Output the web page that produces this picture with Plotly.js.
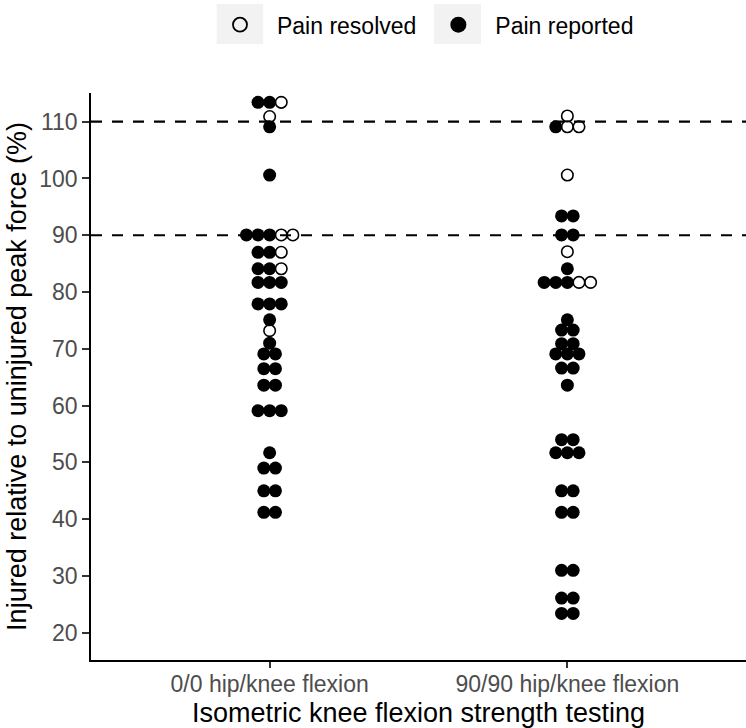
<!DOCTYPE html>
<html><head><meta charset="utf-8">
<script src="https://cdn.plot.ly/plotly-3.0.1.min.js"></script>
<style>html,body{margin:0;padding:0;background:#fff}#chart{width:746px;height:728px}</style>
</head><body><div id="chart"></div>
<script>
// ---- data (dot-plot bin centres, % of uninjured peak force), one entry per athlete ----
const categories = ["0/0 hip/knee flexion", "90/90 hip/knee flexion"];
const seriesNames = ["Pain resolved", "Pain reported"];
const yTicks = [20, 30, 40, 50, 60, 70, 80, 90, 100, 110];
const thresholds = [90, 110];

const resolved00 = [113.4, 110.9, 90.05, 90.05, 87.0, 84.1, 73.2];
const reported00 = [113.4, 113.4, 109.1, 100.6, 90.05, 90.05, 90.05, 87.0, 87.0, 84.1, 84.1,
  81.7, 81.7, 81.7, 77.9, 77.9, 77.9, 75.1, 71.0, 69.1, 69.1, 66.5, 66.5, 63.6, 63.6,
  59.1, 59.1, 59.1, 51.7, 49.0, 49.0, 45.0, 45.0, 41.2, 41.2];
const resolved9090 = [111.0, 109.1, 109.1, 100.6, 87.1, 81.7, 81.7];
const reported9090 = [109.1, 93.4, 93.4, 90.05, 90.05, 84.1, 81.7, 81.7, 81.7, 75.1, 73.3, 73.3,
  70.9, 70.9, 69.1, 69.1, 69.1, 66.6, 66.6, 63.6, 54.0, 54.0, 51.7, 51.7, 51.7, 45.0, 45.0,
  41.2, 41.2, 31.0, 31.0, 26.1, 26.1, 23.4, 23.4];

// ---- centred horizontal stacking of dots sharing a bin (filled first, then open) ----
const STEP = 0.039;
function stackColumn(catIdx, filledVals, openVals) {
  const keys = Array.from(new Set(filledVals.concat(openVals)));
  const out = {filled: {x: [], y: []}, open: {x: [], y: []}};
  keys.forEach(k => {
    const nf = filledVals.filter(v => v === k).length;
    const no = openVals.filter(v => v === k).length;
    const n = nf + no;
    for (let i = 0; i < n; i++) {
      const xv = catIdx + (i - (n - 1) / 2) * STEP;
      const tgt = i < nf ? out.filled : out.open;
      tgt.x.push(xv); tgt.y.push(k);
    }
  });
  return out;
}
const c0 = stackColumn(0, reported00, resolved00);
const c1 = stackColumn(1, reported9090, resolved9090);

const FONT = '"Liberation Sans", Arial, Helvetica, sans-serif';
const openMarker = {symbol: 'circle-open', size: 11.5, color: '#000', line: {width: 1.6, color: '#000'}};
const filledMarker = {symbol: 'circle', size: 13, color: '#000', line: {width: 0}};

const traces = [
  {
    type: 'scatter', mode: 'markers', name: seriesNames[0], legendgroup: 'r', showlegend: false,
    x: c0.open.x.concat(c1.open.x), y: c0.open.y.concat(c1.open.y),
    marker: openMarker, hoverinfo: 'y'
  },
  {
    type: 'scatter', mode: 'markers', name: seriesNames[1], legendgroup: 'p', showlegend: false,
    x: c0.filled.x.concat(c1.filled.x), y: c0.filled.y.concat(c1.filled.y),
    marker: filledMarker, hoverinfo: 'y'
  },
  // legend keys (larger symbols, as in the reference legend)
  {type: 'scatter', mode: 'markers', name: seriesNames[0], legendgroup: 'r', x: [null], y: [null],
   marker: {symbol: 'circle-open', size: 14, color: '#000', line: {width: 1.8, color: '#000'}}},
  {type: 'scatter', mode: 'markers', name: seriesNames[1], legendgroup: 'p', x: [null], y: [null],
   marker: {symbol: 'circle', size: 16, color: '#000', line: {width: 0}}}
];

const shapes = thresholds.map(t => ({
  type: 'line', xref: 'paper', x0: 0, x1: 1, yref: 'y', y0: t, y1: t,
  line: {color: '#000', width: 2.2, dash: '11px,10px'}, layer: 'below'
}));
// grey legend key backgrounds
shapes.push({type: 'rect', xref: 'paper', yref: 'paper', x0: 0.1919, x1: 0.2629, y0: 1.0864, y1: 1.157,
  fillcolor: '#F2F2F2', line: {width: 0}, layer: 'below'});
shapes.push({type: 'rect', xref: 'paper', yref: 'paper', x0: 0.5237, x1: 0.5954, y0: 1.0864, y1: 1.157,
  fillcolor: '#F2F2F2', line: {width: 0}, layer: 'below'});

const layout = {
  width: 746, height: 728,
  margin: {l: 91, r: 0, t: 93, b: 68, pad: 0},
  paper_bgcolor: '#fff', plot_bgcolor: '#fff',
  font: {family: FONT, color: '#000'},
  showlegend: true,
  legend: {orientation: 'h', xref: 'container', yref: 'container', x: 0.2721, y: 0.966,
    xanchor: 'left', yanchor: 'middle', itemwidth: 64, itemsizing: 'trace',
    font: {size: 23, color: '#000', family: FONT},
    bgcolor: 'rgba(0,0,0,0)', borderwidth: 0, itemclick: false, itemdoubleclick: false},
  xaxis: {
    range: [-0.6, 1.6], tickvals: [0, 1], ticktext: categories,
    showgrid: false, zeroline: false, showline: true, linecolor: '#000', linewidth: 1.6,
    ticks: 'outside', ticklen: 6, tickwidth: 1.6, tickcolor: '#333', ticklabelstandoff: -3,
    tickfont: {size: 23, color: '#4D4D4D', family: FONT},
    title: {text: 'Isometric knee flexion strength testing', font: {size: 27, color: '#000', family: FONT}, standoff: 7},
    fixedrange: true
  },
  yaxis: {
    range: [15.2, 115.05], tickvals: yTicks,
    showgrid: false, zeroline: false, showline: true, linecolor: '#000', linewidth: 1.6,
    ticks: 'outside', ticklen: 7, tickwidth: 1.6, tickcolor: '#333',
    tickfont: {size: 23, color: '#4D4D4D', family: FONT},
    title: {text: 'Injured relative to uninjured peak force (%)', font: {size: 27, color: '#000', family: FONT}, standoff: 5},
    fixedrange: true
  },
  shapes: shapes
};

Plotly.newPlot('chart', traces, layout, {displayModeBar: false, responsive: false});
</script>
</body></html>
